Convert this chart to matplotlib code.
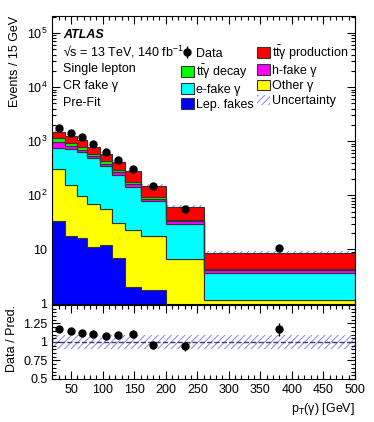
import numpy as np
import matplotlib
matplotlib.use("Agg")
import matplotlib.pyplot as plt
from matplotlib.patches import Patch
from matplotlib.ticker import FixedLocator, FixedFormatter, MultipleLocator, LogLocator, NullFormatter

plt.rcParams['font.family'] = ['Liberation Sans', 'DejaVu Sans']
plt.rcParams['mathtext.default'] = 'regular'
plt.rcParams['hatch.linewidth'] = 0.7

### Data (Events / 15 GeV)
edges = [20, 40, 60, 75, 95, 115, 135, 160, 200, 260, 500]
lep_fakes = [34, 18, 16, 11, 12, 7, 2.0, 1.8, 0, 0]
other_gamma = [276, 136, 82, 58, 45, 24, 21, 16, 6.7, 1.16]
e_fake = [438, 551, 523, 419, 284, 209, 119, 60, 23, 2.46]
h_fake = [219, 96, 55, 51, 42, 29, 21, 8, 4.0, 0.55]
tty_decay = [160, 125, 104, 48, 40, 28, 12, 6.6, 1.0, 0.13]
tty_prod = [329, 301, 286, 203, 157, 108, 101, 59, 26, 4.4]
data = [1755, 1419, 1175, 900, 640, 454, 305, 146, 57, 10.5]
ratio = [1.18, 1.144, 1.118, 1.113, 1.078, 1.091, 1.104, 0.957, 0.944, 1.17]
unc = 0.09

FS = 9

edges = np.array(edges)
centers = 0.5 * (edges[1:] + edges[:-1])
widths = np.diff(edges)
data = np.array(data)
rel_err = 1 / np.sqrt(data * widths / 15)

components = [
    (lep_fakes, "#0000ff", "Lep. fakes"),
    (other_gamma, "#ffff00", "Other γ"),
    (e_fake, "#00ffff", "e-fake γ"),
    (h_fake, "#ff00ff", "h-fake γ"),
    (tty_decay, "#00ff00", "t$\\bar{t}$γ decay"),
    (tty_prod, "#ff0000", "t$\\bar{t}$γ production"),
]

fig = plt.figure(figsize=(3.74, 4.22), dpi=100)
ax = fig.add_axes([0.1398, 0.2808, 0.809, 0.681])
rax = fig.add_axes([0.1398, 0.1019, 0.809, 0.1754])

## Stack
bottom = np.full(len(centers), 0.01)
total = np.zeros(len(centers))
handles = {}
for vals, color, label in components:
    vals = np.array(vals, dtype=float)
    top = bottom + vals
    ax.stairs(top, edges, baseline=bottom, fill=True, facecolor=color,
              edgecolor="#333333", linewidth=0.8, zorder=2)
    handles[label] = Patch(facecolor=color, edgecolor="#333333", linewidth=0.8)
    bottom = top
    total += vals

# Uncertainty band
ax.stairs(total * (1 + unc), edges, baseline=total * (1 - unc), fill=True,
          facecolor="none", edgecolor="#8080ff", linewidth=0, hatch="/////", zorder=1)
unc_handle = Patch(facecolor="none", edgecolor="#8080ff", linewidth=0, hatch="/////")

# Data
eb = ax.errorbar(centers, data, yerr=data * rel_err, fmt="o", color="black",
                 markersize=5, elinewidth=1, capsize=0, zorder=4)

ax.set_yscale("log")
ax.set_xlim(20, 500)
ax.set_ylim(1, 2.05e5)
ax.yaxis.set_major_locator(FixedLocator([1, 10, 1e2, 1e3, 1e4, 1e5]))
ax.yaxis.set_major_formatter(FixedFormatter(
    ["1", "10", "$10^{2}$", "$10^{3}$", "$10^{4}$", "$10^{5}$"]))
ax.yaxis.set_minor_locator(LogLocator(base=10, subs=np.arange(2, 10), numticks=20))
ax.yaxis.set_minor_formatter(NullFormatter())
ax.xaxis.set_major_locator(MultipleLocator(50))
ax.xaxis.set_minor_locator(MultipleLocator(10))
ax.tick_params(labelbottom=False)
ax.set_ylabel("Events / 15 GeV", loc="top", fontsize=FS)

# Labels
ax.text(0.035, 0.934, "ATLAS", transform=ax.transAxes, fontsize=FS,
        fontweight="bold", fontstyle="italic", va="center")
info = ["\u221as = 13 TeV, 140 fb$^{-1}$", "Single lepton", "CR fake γ", "Pre-Fit"]
for i, t in enumerate(info):
    ax.text(0.035, 0.875 - i * 0.059, t, transform=ax.transAxes, fontsize=FS, va="center")

# Legend
leg_handles = [eb, handles["t$\\bar{t}$γ decay"], handles["e-fake γ"], handles["Lep. fakes"],
               handles["t$\\bar{t}$γ production"], handles["h-fake γ"], handles["Other γ"], unc_handle]
leg_labels = ["Data", "t$\\bar{t}$γ decay", "e-fake γ", "Lep. fakes",
              "t$\\bar{t}$γ production", "h-fake γ", "Other γ", "Uncertainty"]
ax.legend(leg_handles, leg_labels, ncol=2, loc="upper left", bbox_to_anchor=(0.425, 0.905),
          frameon=False, fontsize=FS, borderpad=0, borderaxespad=0, handlelength=1.05,
          handleheight=0.95, handletextpad=0.15, columnspacing=0.25, labelspacing=0.2)

## Ratio
ratio = np.array(ratio)
rax.stairs(np.full(len(centers), 1 + unc), edges, baseline=np.full(len(centers), 1 - unc),
           fill=True, facecolor="none", edgecolor="#8080ff", linewidth=0, hatch="/////")
rax.axhline(1, ls="--", color="#444444", lw=1)
rax.errorbar(centers, ratio, yerr=ratio * rel_err, fmt="o", color="black",
             markersize=5, elinewidth=1, capsize=0, zorder=4)
rax.set_xlim(20, 500)
rax.set_ylim(0.5, 1.5)
rax.yaxis.set_major_locator(FixedLocator([0.5, 0.75, 1.0, 1.25, 1.5]))
rax.yaxis.set_major_formatter(FixedFormatter(["0.5", "0.75", "1", "1.25", ""]))
rax.yaxis.set_minor_locator(MultipleLocator(0.05))
rax.xaxis.set_major_locator(MultipleLocator(50))
rax.xaxis.set_minor_locator(MultipleLocator(10))
rax.set_ylabel("Data / Pred.", loc="top", fontsize=FS)
rax.set_xlabel("p$_{T}$(γ) [GeV]", loc="right", fontsize=FS)

for a in (ax, rax):
    a.tick_params(which="both", direction="in", top=True, right=True, labelsize=FS)
    a.tick_params(which="major", length=6, width=0.8)
    a.tick_params(which="minor", length=3, width=0.8)
    for s in a.spines.values():
        s.set_linewidth(0.8)

fig.savefig("out.png", dpi=100)
